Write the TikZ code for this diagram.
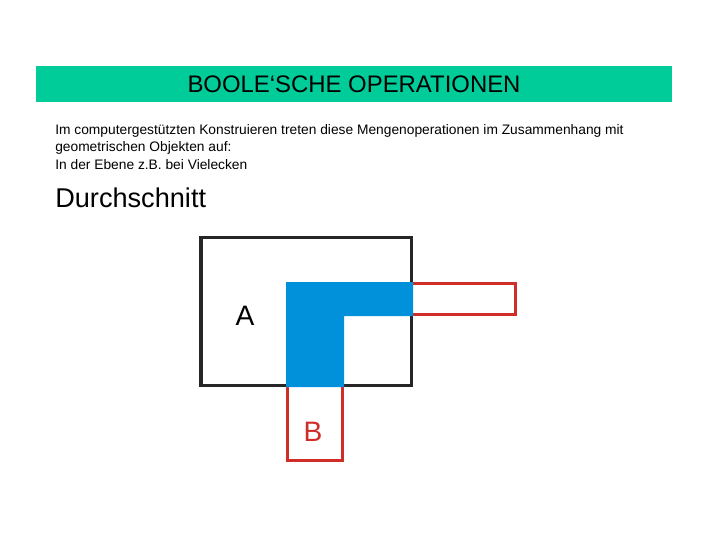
\documentclass[tikz,border=0pt]{standalone}
\usepackage{fontspec}
\setmainfont{Liberation Sans}
\usepackage{tikz}
\definecolor{titlegreen}{RGB}{0,204,153}
\definecolor{cutblue}{RGB}{0,145,218}
\definecolor{setred}{RGB}{208,45,40}
\tikzset{px/.style={x=0.025cm,y=-0.025cm},
  bodytext/.style={anchor=west,inner sep=0pt,font=\fontsize{9.8}{12}\selectfont},
  setlabel/.style={inner sep=0pt,font=\fontsize{20}{24}\selectfont},
  setline/.style={line width=2.4pt}}

\begin{document}
\begin{tikzpicture}[px]
\useasboundingbox (0,0) rectangle (720,540);
\fill[titlegreen] (36,66) rectangle (672,102);
\node (title) at (354,84) {\fontsize{17}{20}\selectfont BOOLE‘SCHE OPERATIONEN};
\node[bodytext] (line1) at (55,131) {Im computergestützten Konstruieren treten diese Mengenoperationen im Zusammenhang mit};
\node[bodytext] (line2) at (55,148) {geometrischen Objekten auf:};
\node[bodytext] (line3) at (55,165) {In der Ebene z.B. bei Vielecken};
\node[anchor=west,inner sep=0pt] (cut) at (55,198) {\fontsize{19.3}{23}\selectfont Durchschnitt};
% set A
\draw[setline,black!85] (201,237.7) rectangle (411.5,385.5);
% set B
\draw[setline,setred] (287.7,283.7) -- (515.3,283.7) -- (515.3,314.3) -- (342.3,314.3)
  -- (342.3,460.3) -- (287.7,460.3) -- cycle;
% intersection
\fill[cutblue] (286,282) -- (413.2,282) -- (413.2,316) -- (344,316) -- (344,387.2)
  -- (286,387.2) -- cycle;
\node[setlabel] (A) at (245,316) {A};
\node[setlabel,text=setred] (B) at (313,432) {B};
\end{tikzpicture}
\end{document}
